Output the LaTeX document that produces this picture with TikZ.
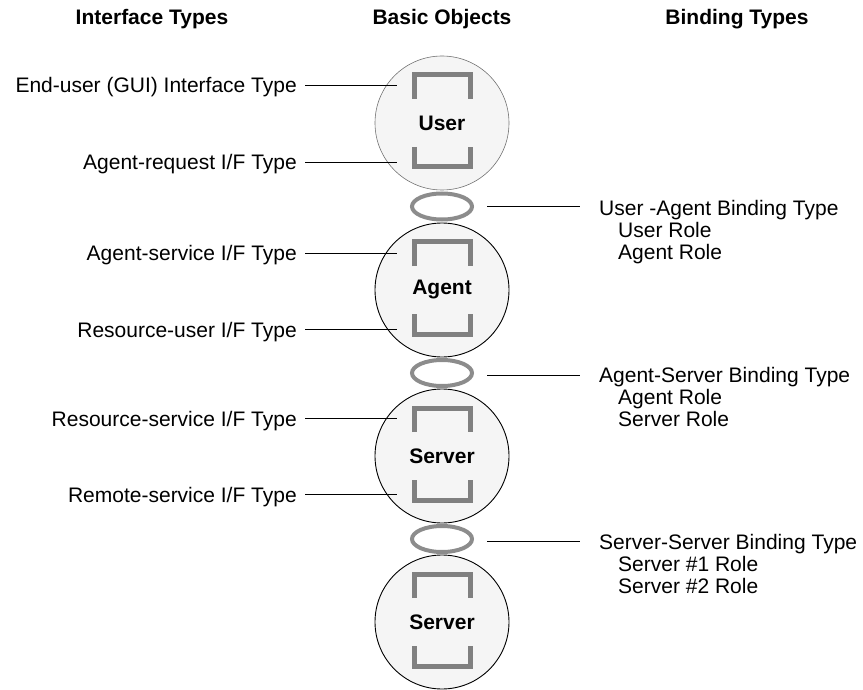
\documentclass[tikz,border=0pt]{standalone}
\usepackage{fontspec}
\setmainfont{Liberation Sans}
\usetikzlibrary{shapes.geometric}
\begin{document}
\begin{tikzpicture}[x=1pt,y=-1pt,
  obj/.style={circle, minimum size=134pt, inner sep=0, fill=black!4, draw=black, line width=0.9pt, font=\fontsize{21}{22}\selectfont\bfseries},
  ring/.style={ellipse, draw=black!45, line width=4pt, minimum width=60pt, minimum height=26pt, inner sep=0},
  brk/.style={draw=black!50, line width=5pt},
  lab/.style={font=\fontsize{21}{22}\selectfont, inner sep=0},
  head/.style={font=\fontsize{21}{22}\selectfont\bfseries, inner sep=0, anchor=base},
  conn/.style={draw=black, line width=0.8pt}]
\useasboundingbox (0,0) rectangle (863,690);

% headers
\node[head] (h1) at (152,25) {Interface Types};
\node[head] (h2) at (442,25) {Basic Objects};
\node[head] (h3) at (737,25) {Binding Types};

% objects
\node[obj, draw=black!55, line width=0.6pt] (user) at (442,123) {User};
\node[obj] (agent) at (442,290) {Agent};
\node[obj] (server) at (442,456) {Server};
\node[obj] (server2) at (442,622) {Server};

% brackets
\foreach \c in {user,agent,server,server2}{
  \draw[brk] ([shift={(-28,-24)}]\c.center) -- ([shift={(-28,-48)}]\c.center) -- ([shift={(28,-48)}]\c.center) -- ([shift={(28,-24)}]\c.center);
  \draw[brk] ([shift={(-28,24)}]\c.center) -- ([shift={(-28,44)}]\c.center) -- ([shift={(28,44)}]\c.center) -- ([shift={(28,24)}]\c.center);
}

% binding rings
\node[ring] (b1) at (442,206.5) {};
\node[ring] (b2) at (442,373) {};
\node[ring] (b3) at (442,539) {};

% interface labels
\node[lab, anchor=base east] (i1) at (297,93) {End-user (GUI) Interface Type};
\node[lab, anchor=base east] (i2) at (297,170) {Agent-request I/F Type};
\node[lab, anchor=base east] (i3) at (297,260) {Agent-service I/F Type};
\node[lab, anchor=base east] (i4) at (297,337) {Resource-user I/F Type};
\node[lab, anchor=base east] (i5) at (297,426) {Resource-service I/F Type};
\node[lab, anchor=base east] (i6) at (297,502) {Remote-service I/F Type};

\coordinate (i1s) at (305,85);  \coordinate (i1e) at (397,85);
\coordinate (i2s) at (305,162); \coordinate (i2e) at (397,162);
\coordinate (i3s) at (305,253); \coordinate (i3e) at (397,253);
\coordinate (i4s) at (305,329); \coordinate (i4e) at (397,329);
\coordinate (i5s) at (305,418); \coordinate (i5e) at (397,418);
\coordinate (i6s) at (305,494); \coordinate (i6e) at (397,494);
\foreach \k in {1,...,6}{\draw[conn] (i\k s) -- (i\k e);}

% binding labels
\node[lab, anchor=base west] (r1) at (599,215) {User -Agent Binding Type};
\node[lab, anchor=base west] (r1a) at (618,237) {User Role};
\node[lab, anchor=base west] (r1b) at (618,259) {Agent Role};
\node[lab, anchor=base west] (r2) at (599,382) {Agent-Server Binding Type};
\node[lab, anchor=base west] (r2a) at (618,404) {Agent Role};
\node[lab, anchor=base west] (r2b) at (618,426) {Server Role};
\node[lab, anchor=base west] (r3) at (599,549) {Server-Server Binding Type};
\node[lab, anchor=base west] (r3a) at (618,571) {Server \#1 Role};
\node[lab, anchor=base west] (r3b) at (618,593) {Server \#2 Role};

\coordinate (b1s) at (487,206.5); \coordinate (b1e) at (580,206.5);
\coordinate (b2s) at (487,375);   \coordinate (b2e) at (580,375);
\coordinate (b3s) at (487,541);   \coordinate (b3e) at (580,541);
\foreach \k in {1,2,3}{\draw[conn] (b\k s) -- (b\k e);}
\end{tikzpicture}
\end{document}
